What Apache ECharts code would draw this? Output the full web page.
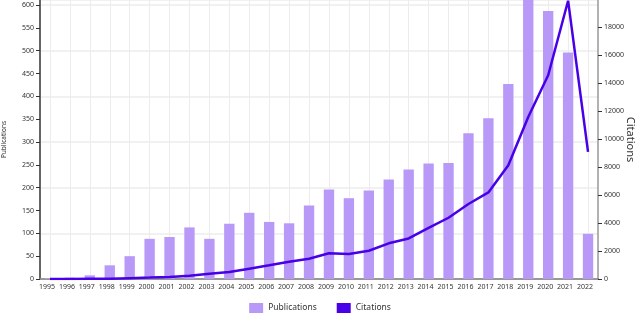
<!DOCTYPE html>
<html><head><meta charset="utf-8">
<script src="https://cdn.jsdelivr.net/npm/echarts@6/dist/echarts.min.js"></script>
<style>html,body{margin:0;padding:0;background:#fff}#c{width:640px;height:314px}</style>
</head><body><div id="c"></div>
<script>
const years = ['1995','1996','1997','1998','1999','2000','2001','2002','2003','2004','2005','2006','2007','2008','2009','2010','2011','2012','2013','2014','2015','2016','2017','2018','2019','2020','2021','2022'];
const publications = [2, 3, 8, 30, 50, 88, 92, 113, 88, 121, 145, 125, 122, 161, 196, 177, 194, 218, 240, 253, 254, 319, 352, 427, 620, 587, 496, 99];
const citations = [0, 0, 10, 20, 60, 100, 150, 240, 380, 500, 740, 980, 1240, 1450, 1840, 1790, 2020, 2550, 2900, 3660, 4380, 5360, 6190, 8140, 11590, 14570, 19900, 9090];

const FONT = 'Noto Sans';
const chart = echarts.init(document.getElementById('c'), null, {renderer: 'canvas'});
chart.setOption({
  animation: false,
  textStyle: {fontFamily: FONT},
  grid: {left: 40, right: 42, top: 0, bottom: 35, containLabel: false, outerBoundsMode: 'none'},
  legend: {
    bottom: 1, left: 'center', padding: 0, itemWidth: 14, itemHeight: 10, itemGap: 20,
    icon: 'rect',
    textStyle: {fontFamily: FONT, fontSize: 8.5, color: '#333'},
    data: ['Publications', 'Citations']
  },
  xAxis: [{
    type: 'category', data: years, boundaryGap: true,
    axisLine: {lineStyle: {color: '#333', width: 1.5}},
    axisTick: {show: false},
    axisLabel: {fontFamily: FONT, fontSize: 7, color: '#333', margin: 4, interval: 0, padding: [0, 6, 0, 0]},
    splitLine: {show: true, alignWithLabel: true, lineStyle: {color: '#ececec', width: 1}}
  }, {
    type: 'category', data: years, position: 'top',
    axisLine: {show: true, lineStyle: {color: '#aaa', width: 1.5}},
    axisTick: {show: false}, axisLabel: {show: false}, splitLine: {show: false}
  }],
  yAxis: [{
    type: 'value', min: 0, max: 611, interval: 50, position: 'left',
    name: 'Publications', nameLocation: 'middle', nameGap: 32, nameRotate: 90, nameMoveOverlap: false,
    nameTextStyle: {fontFamily: FONT, fontSize: 6.5, color: '#333'},
    axisLine: {show: true, lineStyle: {color: '#666', width: 2}},
    axisTick: {show: true, length: 4, lineStyle: {color: '#333'}},
    axisLabel: {fontFamily: FONT, fontSize: 7, color: '#333', margin: 6, showMaxLabel: false},
    splitLine: {show: false}
  }, {
    type: 'value', min: 0, max: 19950, interval: 2000, position: 'right',
    name: 'Citations', nameLocation: 'middle', nameGap: 27, nameRotate: -90, nameMoveOverlap: false,
    nameTextStyle: {fontFamily: FONT, fontSize: 11, color: '#333'},
    axisLine: {show: true, lineStyle: {color: '#999', width: 1.5}},
    axisTick: {show: true, length: 4, lineStyle: {color: '#333'}},
    axisLabel: {fontFamily: FONT, fontSize: 7, color: '#333', margin: 6, showMaxLabel: false,
      formatter: function (v) { return String(v); }},
    splitLine: {show: false}
  }, {
    type: 'value', min: 0, max: 611, interval: 100, position: 'left', show: true,
    axisLine: {show: false}, axisTick: {show: false}, axisLabel: {show: false},
    splitLine: {show: true, lineStyle: {color: '#ececec', width: 1.5}}
  }],
  series: [{
    name: 'Publications', type: 'bar', data: publications, yAxisIndex: 0,
    barWidth: '52%', itemStyle: {color: '#b999f8'}, z: 2
  }, {
    name: 'Citations', type: 'line', data: citations, yAxisIndex: 1,
    symbol: 'none', smooth: false, color: '#4700e8',
    lineStyle: {color: '#4700e8', width: 2.5}, itemStyle: {color: '#4700e8'}, z: 3
  }]
});
</script></body></html>
